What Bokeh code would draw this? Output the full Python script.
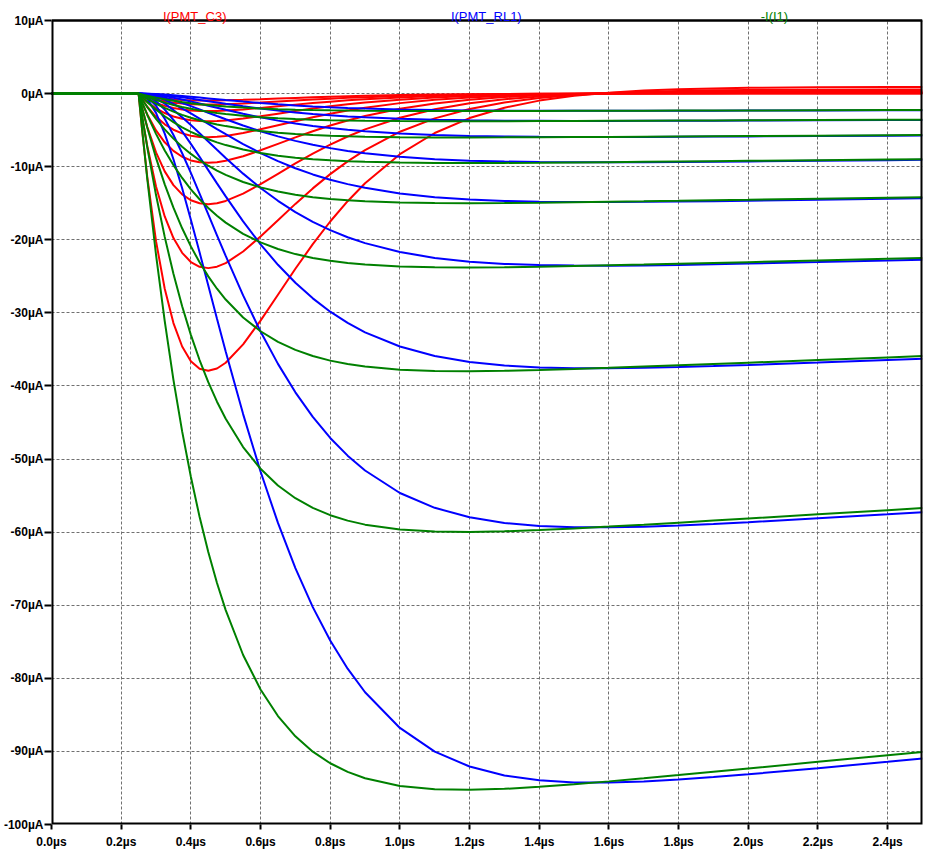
from bokeh.plotting import figure
from bokeh.models import Range1d, FixedTicker, CustomJSTickFormatter, Label
from bokeh.embed import file_html
from bokeh.resources import INLINE

# time axis (µs) for the read-off traces
time_us = [0.0, 0.25, 0.26, 0.275, 0.3, 0.325, 0.35, 0.375, 0.4, 0.425, 0.45,
           0.475, 0.5, 0.55, 0.6, 0.65, 0.7, 0.75, 0.8, 0.85, 0.9, 1.0, 1.1,
           1.2, 1.3, 1.4, 1.5, 1.6, 1.7, 1.8, 1.9, 2.0, 2.2, 2.4, 2.5]

# largest step of the sweep, values in µA
green_big = [0.0, 0.0, -4.87, -11.72, -22.05, -31.14, -39.16, -46.22, -52.43,
             -57.90, -62.72, -66.95, -70.67, -76.81, -81.54, -85.16, -87.93,
             -90.04, -91.62, -92.80, -93.67, -94.72, -95.17, -95.25, -95.12,
             -94.85, -94.50, -94.10, -93.68, -93.24, -92.79, -92.34, -91.43,
             -90.52, -90.07]
blue_big = [0.0, 0.0, -0.12, -0.72, -2.64, -5.48, -8.99, -12.96, -17.25,
            -21.72, -26.27, -30.81, -35.28, -43.85, -51.71, -58.74, -64.92,
            -70.26, -74.83, -78.68, -81.91, -86.79, -90.02, -92.07, -93.30,
            -93.96, -94.24, -94.26, -94.11, -93.85, -93.51, -93.13, -92.30,
            -91.42, -90.97]
red_big = [0.0, 0.0, -4.94, -11.45, -20.19, -26.70, -31.40, -34.60, -36.61,
           -37.65, -37.93, -37.61, -36.83, -34.31, -31.06, -27.52, -23.97,
           -20.60, -17.50, -14.72, -12.27, -8.29, -5.39, -3.35, -1.93, -0.96,
           -0.31, 0.12, 0.41, 0.59, 0.71, 0.79, 0.86, 0.89, 0.89]

# minima of the green trace for each sweep step (µA)
green_min = [-95.3, -60.0, -38.0, -23.8, -15.0, -9.5, -6.0, -3.78, -2.38]

x_ticks = [0.0, 0.2, 0.4, 0.6, 0.8, 1.0, 1.2, 1.4, 1.6, 1.8, 2.0, 2.2, 2.4]
y_ticks = [10, 0, -10, -20, -30, -40, -50, -60, -70, -80, -90, -100]
x_lo, x_hi = 0.0, 2.5
y_lo, y_hi = -100.0, 10.0

trace_names = ["I(PMT_C3)", "I(PMT_RL1)", "-I(I1)"]
trace_colors = ["#FF0000", "#0000FF", "#008000"]
title_x = [0.411, 1.248, 2.075]

# frame: 804 px for 110 µA, plus a 20 px strip above for the trace names
px_per_ua = 804.0 / (y_hi - y_lo)
top_strip = 20.0 / px_per_ua

p = figure(width=934, height=852, output_backend="svg", toolbar_location=None,
           x_range=Range1d(x_lo, x_hi), y_range=Range1d(y_lo, y_hi + top_strip),
           min_border_left=51, min_border_right=12, min_border_top=0,
           min_border_bottom=28)

p.background_fill_color = "white"
p.border_fill_color = "white"
p.outline_line_color = None

for ax, ticks in ((p.xaxis, x_ticks), (p.yaxis, y_ticks)):
    ax.ticker = FixedTicker(ticks=ticks)
    ax.minor_tick_line_color = None
    ax.axis_line_color = None
    ax.major_tick_in = 0
    ax.major_tick_line_color = "black"
    ax.major_tick_line_width = 2
    ax.major_label_text_font = "Liberation Sans"
    ax.major_label_text_font_style = "bold"
    ax.major_label_text_font_size = "12px"
    ax.major_label_text_color = "black"

p.xaxis.formatter = CustomJSTickFormatter(code="return tick.toFixed(1) + 'µs';")
p.yaxis.formatter = CustomJSTickFormatter(code="return tick.toFixed(0) + 'µA';")
p.xaxis.major_tick_out = 5
p.xaxis.major_label_standoff = 5
p.yaxis.major_tick_out = 7
p.yaxis.major_label_standoff = 1

p.xgrid.ticker = FixedTicker(ticks=x_ticks)
p.ygrid.ticker = FixedTicker(ticks=y_ticks)
for g in (p.xgrid, p.ygrid):
    g.grid_line_color = "#707070"
    g.grid_line_dash = "3 2"
    g.grid_line_width = 1
if hasattr(p.xgrid[0], "cross_bounds"):
    p.xgrid.cross_bounds = (y_lo, y_hi)

series = [red_big, blue_big, green_big]
for vals, col in zip(series, trace_colors):
    for m in green_min:
        f = m / green_min[0]
        p.line(time_us, [v * f for v in vals], line_color=col, line_width=2)

# plot-area border (left, bottom, right clipped to half width -> use 4)
p.line([x_lo, x_lo, x_hi, x_hi], [y_hi, y_lo, y_lo, y_hi],
       line_color="black", line_width=4)
p.line([x_lo, x_hi], [y_hi, y_hi], line_color="black", line_width=2.5)

for name, col, tx in zip(trace_names, trace_colors, title_x):
    p.add_layout(Label(x=tx, y=y_hi + 0.48, text=name, text_color=col,
                       text_align="center", text_baseline="alphabetic",
                       text_font="Liberation Sans", text_font_size="13px"))

open("out.html", "w", encoding="utf-8").write(file_html(p, INLINE))
